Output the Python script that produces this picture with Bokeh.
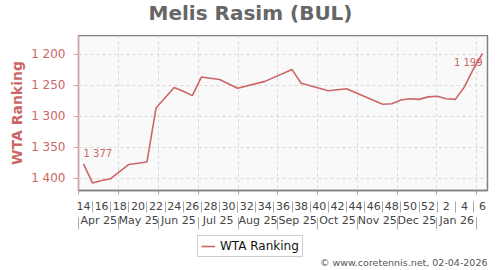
from bokeh.plotting import figure
from bokeh.layouts import column
from bokeh.models import (Range1d, FixedTicker, LinearAxis, Label,
                          ColumnDataSource, Legend, LegendItem)
from bokeh.embed import file_html
from bokeh.resources import INLINE

title_text = "Melis Rasim (BUL)"
series_name = "WTA Ranking"
credit = "\u00a9 www.coretennis.net, 02-04-2026"

weeks = [14, 15, 16, 17, 19, 21, 22, 24, 25, 26, 27, 29, 31, 34, 37, 38, 41, 43,
         47, 48, 49, 50, 51, 52, 1, 2, 3, 4, 5, 6]
years = [2025] * 24 + [2026] * 6
rankings = [1377, 1408, 1404, 1401, 1378, 1374, 1287, 1254, 1260, 1267,
            1237, 1241, 1255, 1244, 1225, 1247, 1259, 1256, 1281, 1280,
            1274, 1272, 1273, 1269, 1268, 1272, 1273, 1253, 1224, 1199]

tick_weeks = list(range(14, 53, 2)) + [2, 4, 6]
tick_years = [2025] * 20 + [2026] * 3
month_labels = ["Apr 25", "May 25", "Jun 25", "Jul 25", "Aug 25", "Sep 25",
                "Oct 25", "Nov 25", "Dec 25", "Jan 26"]
y_ticks = [1200, 1250, 1300, 1350, 1400]

LINE = "#cc6666"
FONT = "DejaVu Sans"
SEP = "#a8a8a8"


def idx(w, y):
    return w - 14 if y == 2025 else w + 38


def fmt(v):
    return f"{v:,}".replace(",", " ")


xs = [idx(w, y) for w, y in zip(weeks, years)]
tick_x = [idx(w, y) for w, y in zip(tick_weeks, tick_years)]
sep_x = [(a + b) / 2 for a, b in zip(tick_x[:-1], tick_x[1:])]
m_start, m_step = -0.5, 4.385
month_bounds = [m_start + k * m_step for k in range(len(month_labels) + 1)]
month_centers = [b + m_step / 2 for b in month_bounds[:-1]]
src = ColumnDataSource(dict(x=xs, y=rankings))

x_range = Range1d(-0.55, 44.55)

# header figure: title
p0 = figure(width=500, height=35, output_backend="svg", toolbar_location=None,
            x_range=x_range, y_range=Range1d(0, 35),
            min_border_left=78, min_border_right=13, min_border_top=0,
            min_border_bottom=0)
p0.axis.visible = False
p0.grid.visible = False
p0.outline_line_color = None
p0.background_fill_color = "white"
p0.border_fill_color = "white"
p0.add_layout(Label(x=172, y=23, x_units="screen", y_units="screen", text=title_text,
                    text_align="center", text_baseline="middle", text_font=FONT,
                    text_font_style="bold", text_font_size="20px",
                    text_color="#666666"))

# main figure
p = figure(width=500, height=200, output_backend="svg", toolbar_location=None,
           x_range=x_range, y_range=Range1d(1420, 1170),
           min_border_left=78, min_border_right=13, min_border_top=0,
           min_border_bottom=45)
p.background_fill_color = "#f9f9f9"
p.border_fill_color = "white"
p.outline_line_color = "#808080"
p.outline_line_width = 1.5

# grids
p.xgrid.ticker = FixedTicker(ticks=month_bounds)
p.ygrid.ticker = FixedTicker(ticks=y_ticks)
for g in (p.xgrid, p.ygrid):
    g.grid_line_color = "#d8d8d8"
    g.grid_line_dash = "3 3"
    g.grid_line_width = 1

# y axis
ya = p.yaxis[0]
ya.ticker = FixedTicker(ticks=y_ticks)
ya.major_label_overrides = {t: fmt(t) for t in y_ticks}
ya.axis_label = series_name
ya.axis_label_text_font = FONT
ya.axis_label_text_font_style = "bold"
ya.axis_label_text_font_size = "14px"
ya.axis_label_text_color = LINE
ya.axis_label_standoff = 3
ya.major_label_text_font = FONT
ya.major_label_text_font_size = "12px"
ya.major_label_text_color = LINE
ya.major_label_standoff = 8
ya.axis_line_color = "#e0a0a0"
ya.major_tick_line_color = "#e0a0a0"
ya.major_tick_out = 5
ya.major_tick_in = 0
ya.minor_tick_line_color = None

# week axis
xa = p.xaxis[0]
xa.ticker = FixedTicker(ticks=tick_x, minor_ticks=month_bounds)
xa.major_label_overrides = {x: str(w) for x, w in zip(tick_x, tick_weeks)}
xa.major_label_text_font = FONT
xa.major_label_text_font_size = "11px"
xa.major_label_text_color = "#444444"
xa.major_label_standoff = 7
xa.axis_line_color = "#808080"
xa.axis_line_width = 1.5
xa.major_tick_out = 0
xa.major_tick_in = 0
xa.major_tick_line_color = None
xa.minor_tick_line_color = "#a0a0a0"
xa.minor_tick_out = 4
xa.minor_tick_in = 0

# month axis (its minor ticks reach up as week separators)
ma = LinearAxis(ticker=FixedTicker(ticks=month_centers, minor_ticks=sep_x))
ma.major_label_overrides = {x: m for x, m in zip(month_centers, month_labels)}
ma.major_label_text_font = FONT
ma.major_label_text_font_size = "11px"
ma.major_label_text_color = "#444444"
ma.major_label_standoff = 1
ma.axis_line_color = None
ma.major_tick_out = 0
ma.major_tick_in = 0
ma.major_tick_line_color = None
ma.minor_tick_line_color = SEP
ma.minor_tick_in = 11
ma.minor_tick_out = 0
p.add_layout(ma, "below")

# separator axis (its minor ticks reach up as month separators)
sa = LinearAxis(ticker=FixedTicker(ticks=[month_centers[0]], minor_ticks=month_bounds))
sa.major_label_overrides = {month_centers[0]: " "}
sa.axis_line_color = None
sa.major_tick_line_color = None
sa.major_tick_out = 0
sa.major_tick_in = 0
sa.major_label_text_font_size = "2px"
sa.major_label_standoff = 0
sa.minor_tick_line_color = SEP
sa.minor_tick_in = 12
sa.minor_tick_out = 0
p.add_layout(sa, "below")

# line
p.line("x", "y", source=src, line_color=LINE, line_width=1.6)

# value labels
p.add_layout(Label(x=xs[0], y=rankings[0], text=fmt(rankings[0]), text_align="left",
                   text_baseline="bottom", y_offset=5, text_font=FONT,
                   text_font_size="10px", text_color=LINE))
p.add_layout(Label(x=xs[-1], y=rankings[-1], text=fmt(rankings[-1]), text_align="right",
                   text_baseline="top", y_offset=-4, text_font=FONT,
                   text_font_size="10px", text_color=LINE))

# footer figure: legend and credit (series drawn out of its visible range)
p2 = figure(width=500, height=35, output_backend="svg", toolbar_location=None,
            x_range=x_range, y_range=Range1d(0, 35),
            min_border_left=78, min_border_right=13, min_border_top=0,
            min_border_bottom=0)
p2.axis.visible = False
p2.grid.visible = False
p2.outline_line_color = None
p2.background_fill_color = "white"
p2.border_fill_color = "white"
r2 = p2.line("x", "y", source=src, line_color=LINE, line_width=1.6)

leg = Legend(items=[LegendItem(label=series_name, renderers=[r2])],
             location=(119, 13), orientation="horizontal",
             label_text_font=FONT, label_text_font_size="12px",
             label_text_color="#111111", border_line_color="#a0a0a0",
             border_line_width=1, background_fill_color="white",
             background_fill_alpha=1, glyph_width=14, glyph_height=14,
             label_standoff=5, padding=3, spacing=0, margin=0,
             label_height=14)
p2.add_layout(leg, "center")

p2.add_layout(Label(x=409, y=8, x_units="screen", y_units="screen", text=credit,
                    text_align="right", text_baseline="middle", text_font=FONT,
                    text_font_size="9.5px", text_color="#555555"))

layout = column(p0, p, p2, spacing=0)
open("out.html", "w").write(file_html(layout, INLINE))
